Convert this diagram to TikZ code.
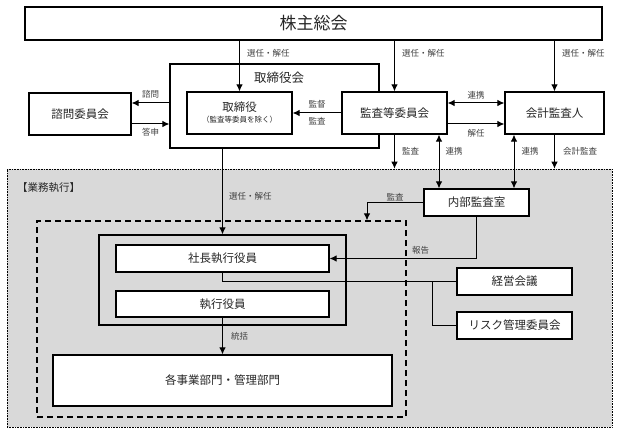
\documentclass[tikz,border=0pt]{standalone}
\usepackage{fontspec}
\setmainfont{Noto Sans CJK JP}
\usetikzlibrary{arrows.meta}

\begin{document}
\begin{tikzpicture}[x=1pt,y=-1pt,>={Latex[length=7pt,width=6.5pt]},
    orgbox/.style={draw,line width=1.2pt,fill=white,text=black!85,inner sep=0pt,font=\fontsize{11.5}{13}\selectfont},
    note/.style={text=black!75,inner sep=1pt,font=\fontsize{8.5}{10}\selectfont},
    link/.style={line width=1pt}]
    \useasboundingbox (0,0) rectangle (621,433);

    % 業務執行
    \node[draw,densely dotted,line width=0.6pt,fill=black!15,minimum width=605pt,minimum height=258pt,inner sep=0pt] (gyomu) at (309.5,298) {};
    \node[anchor=west,inner sep=0pt,text=black!85,font=\fontsize{10.5}{12}\selectfont] (gyomulbl) at (17,188) {【業務執行】};
    \node[draw,dash pattern=on 6pt off 4pt,line width=1.2pt,minimum width=369pt,minimum height=196pt,inner sep=0pt] (dbox) at (221.5,319) {};
    \node[draw,line width=1.2pt,minimum width=247pt,minimum height=90pt,inner sep=0pt] (inner) at (222.5,280) {};

    % boxes
    \node[orgbox,minimum width=577pt,minimum height=33pt,font=\fontsize{17}{19}\selectfont] (kabu) at (313.5,23.5) {株主総会};
    \node[orgbox,minimum width=209pt,minimum height=84pt] (torikai) at (274.5,106) {};
    \node[text=black!85,font=\fontsize{12.5}{14}\selectfont] (torikailbl) at (279,78) {取締役会};
    \node[orgbox,minimum width=102pt,minimum height=42pt] (shimon) at (80,114) {諮問委員会};
    \node[orgbox,minimum width=105pt,minimum height=42pt,align=center] (tori) at (239.5,113) {取締役\\[-2pt]{\fontsize{7.5}{9}\selectfont （監査等委員を除く）}};
    \node[orgbox,minimum width=105pt,minimum height=42pt] (kansa) at (394.5,113) {監査等委員会};
    \node[orgbox,minimum width=99pt,minimum height=42pt] (kaikei) at (554.5,113) {会計監査人};
    \node[orgbox,minimum width=105pt,minimum height=27pt] (naibu) at (476.5,202.5) {内部監査室};
    \node[orgbox,minimum width=213pt,minimum height=27pt] (shacho) at (222.5,258.5) {社長執行役員};
    \node[orgbox,minimum width=213pt,minimum height=26pt] (shikko) at (222.5,304) {執行役員};
    \node[orgbox,minimum width=339pt,minimum height=51pt] (kakubu) at (222.5,380.5) {各事業部門・管理部門};
    \node[orgbox,minimum width=115pt,minimum height=27pt] (keiei) at (514.5,281.5) {経営会議};
    \node[orgbox,minimum width=115pt,minimum height=27pt] (risk) at (514.5,325.5) {リスク管理委員会};

    % 株主総会から
    \draw[link,->] (tori.north |- kabu.south) -- node[note,right=6pt,pos=0.25] {選任・解任} (tori.north);
    \draw[link,->] (kansa.north |- kabu.south) -- node[note,right=6pt,pos=0.25] {選任・解任} (kansa.north);
    \draw[link,->] (kaikei.north |- kabu.south) -- node[note,right=6pt,pos=0.25] {選任・解任} (kaikei.north);

    % 取締役会まわり
    \draw[link,->] (torikai.west |- 0,103) -- node[note,above=3pt] {諮問} (shimon.east |- 0,103);
    \draw[link,->] (shimon.east |- 0,124) -- node[note,below=3pt] {答申} (torikai.west |- 0,124);
    \draw[link,->] (kansa.west) -- node[note,above=3pt] {監督} node[note,below=3pt] {監査} (tori.east);
    \draw[link,<->] (kansa.east |- 0,103) -- node[note,above=2pt] {連携} (kaikei.west |- 0,103);
    \draw[link,->] (kansa.east |- 0,124) -- node[note,below=4pt] {解任} (kaikei.west |- 0,124);

    % 監査・連携
    \draw[link,->] (kansa.south) -- node[note,right=6pt] {監査} (kansa.south |- gyomu.north);
    \draw[link,<->] (kansa.south -| 439,0) -- node[note,right=5pt,pos=0.31] {連携} (naibu.north -| 439,0);
    \draw[link,<->] (kaikei.south -| 514,0) -- node[note,right=6pt,pos=0.31] {連携} (naibu.north -| 514,0);
    \draw[link,->] (kaikei.south) -- node[note,right=7pt] {会計監査} (kaikei.south |- gyomu.north);

    % 業務執行の中
    \draw[link,->] (torikai.south -| inner.north) -- node[note,right=5pt,pos=0.56] {選任・解任} (inner.north);
    \draw[link,->] (naibu.west) -| node[note,above,pos=0.25] {監査} (dbox.north -| 367,0);
    \draw[link,->] (naibu.south) |- node[note,above=3pt,pos=0.69] {報告} (shacho.east);
    \draw[link] (shacho.south) |- (keiei.west);
    \draw[link] (keiei.west -| 432,0) |- (risk.west);
    \draw[link,->] (shikko.south) -- node[note,right=7pt] {統括} (kakubu.north);
\end{tikzpicture}
\end{document}
